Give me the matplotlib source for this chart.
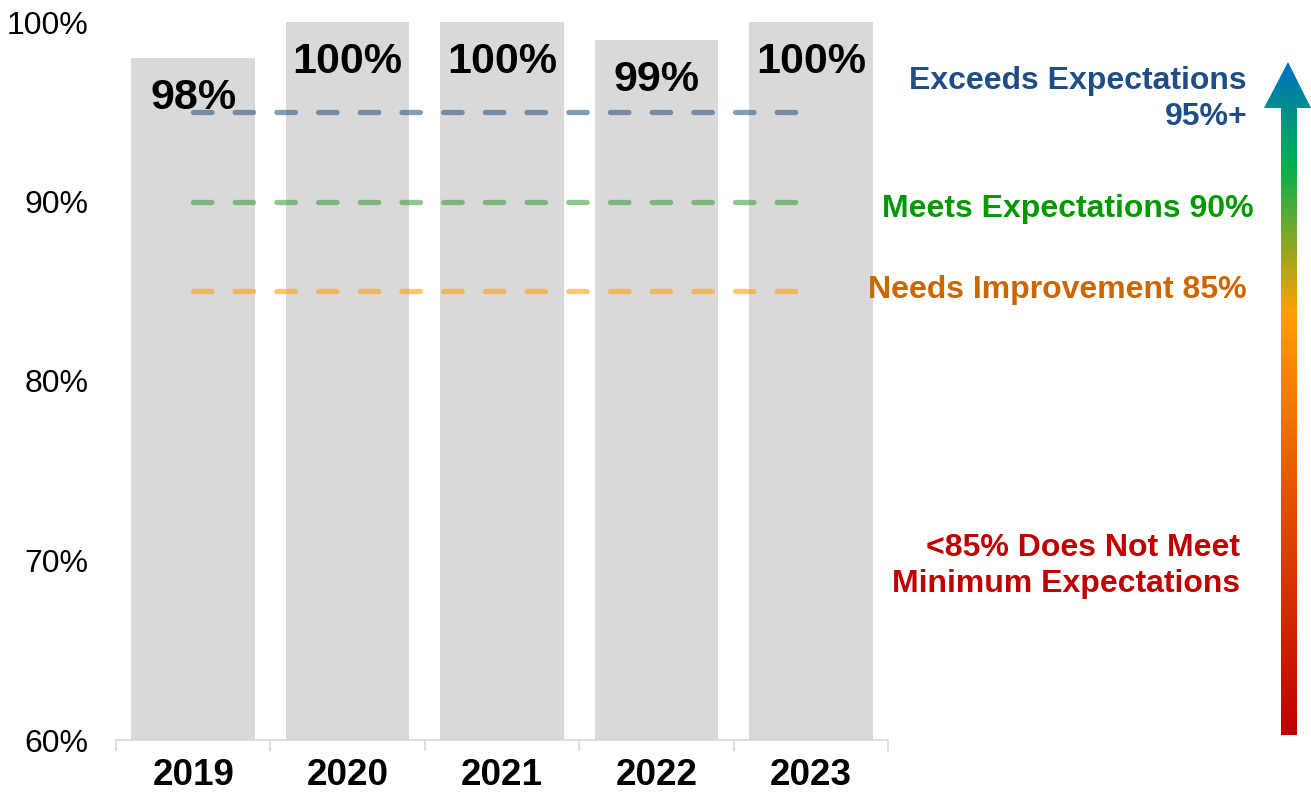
import numpy as np
import matplotlib
matplotlib.use("Agg")
import matplotlib.pyplot as plt
from matplotlib.colors import LinearSegmentedColormap
from matplotlib.patches import Polygon

plt.rcParams['font.family'] = ['Liberation Sans', 'DejaVu Sans']

years = ['2019', '2020', '2021', '2022', '2023']
scores = [98, 100, 100, 99, 100]

# target bands
levels = [95, 90, 85]
level_colors = ['#1F4E79', '#339933', '#FF9A00']
level_labels = ['Exceeds Expectations\n95%+', 'Meets Expectations 90%', 'Needs Improvement 85%']
label_colors = ['#1F4E86', '#009900', '#CC6600']
low_label = '<85% Does Not Meet\nMinimum Expectations'

W, H = 1311, 792
fig = plt.figure(figsize=(W / 100, H / 100), dpi=100)
ax = fig.add_axes([116 / W, 1 - 740 / H, (888 - 116) / W, (740 - 22) / H])

x = np.arange(len(years))
ax.bar(x, scores, width=0.8, color='#D9D9D9', zorder=1)

for xi, s in zip(x, scores):
    ax.annotate(f'{s}%', (xi, s), xytext=(0, -29), textcoords='offset points',
                ha='center', va='center', fontsize=31, fontweight='bold', zorder=3)

for lvl, c in zip(levels, level_colors):
    ax.plot([x[0], x[-1]], [lvl, lvl], color=c, alpha=0.55, lw=3.8,
            dashes=(3.5, 4.4), dash_capstyle='round', zorder=2)

ax.set_xlim(-0.5, len(years) - 0.5)
ax.set_ylim(60, 100)
ax.set_yticks([60, 70, 80, 90, 100])
ax.set_yticklabels([f'{v}%' for v in [60, 70, 80, 90, 100]], fontsize=23)
ax.tick_params(axis='y', length=0, pad=20)
ax.set_xticks(x)
ax.set_xticklabels(years, fontsize=26.5, fontweight='bold')
ax.tick_params(axis='x', which='major', length=0, pad=13)
ax.set_xticks(np.arange(len(years) + 1) - 0.5, minor=True)
ax.tick_params(axis='x', which='minor', length=8, color='#D9D9D9', width=1.2)
for side in ['top', 'right', 'left']:
    ax.spines[side].set_visible(False)
ax.spines['bottom'].set_color('#D9D9D9')
ax.spines['bottom'].set_linewidth(1.2)

# overlay in pixel coordinates for the side labels and the gradient arrow
ov = fig.add_axes([0, 0, 1, 1])
ov.set_xlim(0, W)
ov.set_ylim(H, 0)
ov.axis('off')

txt = dict(fontsize=23, fontweight='bold', ha='right', va='center', linespacing=1.25)
ov.text(1247, 99, level_labels[0], color=label_colors[0], **txt)
ov.text(1254, 209, level_labels[1], color=label_colors[1], **txt)
ov.text(1247, 290, level_labels[2], color=label_colors[2], **txt)
ov.text(1240, 566, low_label, color='#C00000', **txt)

cmap = LinearSegmentedColormap.from_list('arrow', [
    (0.0, '#C00000'), (0.35, '#E35200'), (0.63, '#FFA000'),
    (0.85, '#00B050'), (1.0, '#0070C0')])
grad = np.linspace(0, 1, 256).reshape(-1, 1)
im = ov.imshow(grad, cmap=cmap, extent=(1260, 1311, 735, 62), origin='lower',
               aspect='auto', interpolation='bilinear')
arrow = Polygon([(1281, 735), (1297, 735), (1297, 108), (1311, 108),
                 (1288, 62), (1264, 108), (1281, 108)], closed=True,
                facecolor='none', edgecolor='none')
ov.add_patch(arrow)
im.set_clip_path(arrow)

fig.savefig('out.png', dpi=100)
